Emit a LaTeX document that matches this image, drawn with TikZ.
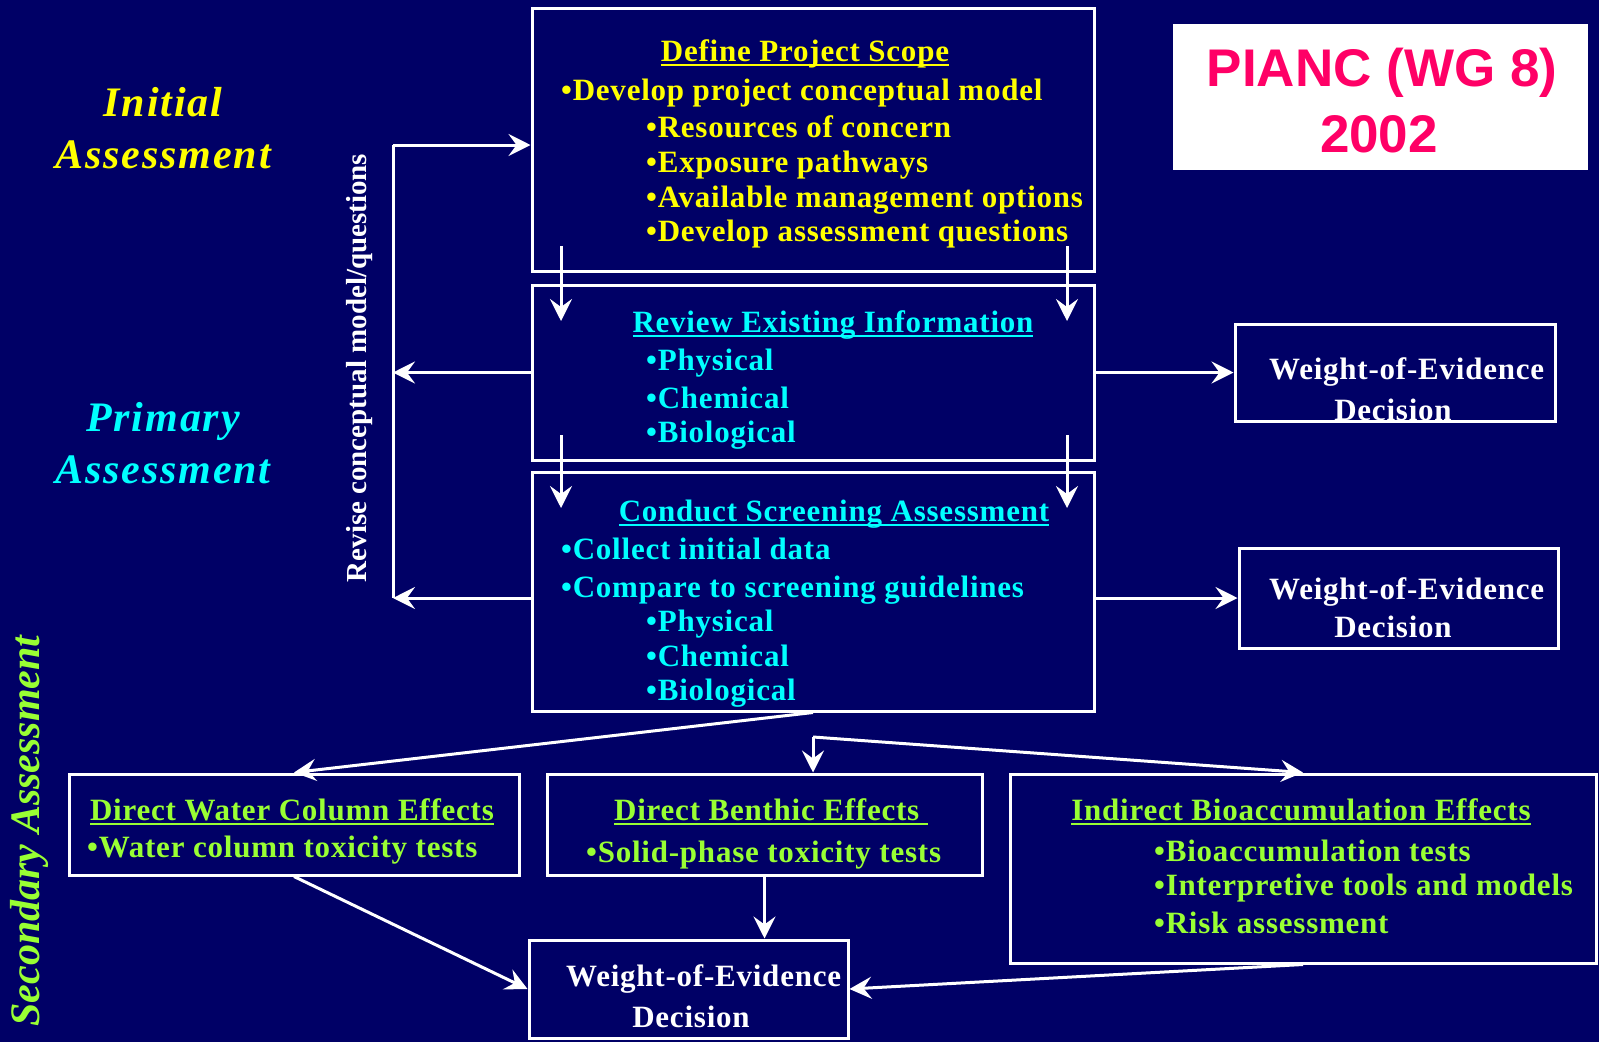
\documentclass[tikz,border=0pt]{standalone}
\usepackage{fontspec}
\setmainfont{Liberation Serif}
\newfontfamily\spfont[LetterSpace=2.5]{Liberation Serif}
\newfontfamily\labfont[LetterSpace=4.5]{Liberation Serif}
\newfontfamily\arialfont{Liberation Sans}
\usetikzlibrary{arrows.meta}
\definecolor{bg}{HTML}{000066}
\definecolor{yel}{HTML}{FFFF00}
\definecolor{cyn}{HTML}{00FFFF}
\definecolor{grn}{HTML}{99FF33}
\definecolor{pnk}{HTML}{FF0066}
\newcommand\undl[1]{\setbox0\hbox{#1}\rlap{\rule[-5pt]{\wd0}{2.5pt}}\box0}
\tikzset{
  box/.style={draw=white, line width=3pt, inner sep=0pt},
  ln/.style={draw=white, line width=3pt},
  arr/.style={draw=white, line width=3pt, -{Stealth[length=22pt,width=22pt,inset=8pt]}},
  tx/.style={inner sep=0pt, font=\spfont\fontsize{31}{36}\selectfont\bfseries},
  ty/.style={tx, text=yel},
  tc/.style={tx, text=cyn},
  tg/.style={tx, text=grn},
  tw/.style={tx, text=white},
  lab/.style={inner sep=0pt, align=center, font=\labfont\fontsize{42}{52}\selectfont\bfseries\itshape},
}
\begin{document}
\begin{tikzpicture}[x=1pt,y=-1pt]
\useasboundingbox (0,0) rectangle (1599,1042);
\fill[bg] (0,0) rectangle (1599,1042);

% boxes
\node[box, minimum width=562, minimum height=263] (b1) at (813,139.5) {};
\node[box, minimum width=562, minimum height=175] (b2) at (813,372.5) {};
\node[box, minimum width=562, minimum height=239] (b3) at (813,591.5) {};
\node[inner sep=0pt, fill=white, minimum width=415, minimum height=146] (pi) at (1380.5,97) {};
\node[box, minimum width=320, minimum height=97] (w1) at (1395,372.5) {};
\node[box, minimum width=319, minimum height=100] (w2) at (1398.5,598) {};
\node[box, minimum width=450, minimum height=101] (dw) at (294,824.5) {};
\node[box, minimum width=435, minimum height=101] (db) at (764.5,824.5) {};
\node[box, minimum width=586, minimum height=189] (ib) at (1303,868.5) {};
\node[box, minimum width=319, minimum height=98] (wb) at (688.5,989) {};

% side labels
\node[lab, text=yel] (ia) at (163,128) {Initial\\Assessment};
\node[lab, text=cyn] (pa) at (163,443) {Primary\\Assessment};
\node[inner sep=0pt, font=\fontsize{42}{52}\selectfont\bfseries\itshape, text=grn, rotate=90] (sa) at (29,831) {Secondary Assessment};
\node[inner sep=0pt, text=white, rotate=90, font=\fontsize{29}{34}\selectfont\bfseries] (rv) at (360,368) {Revise conceptual model/questions};

% PIANC
\node[inner sep=0pt, anchor=base, text=pnk, font=\arialfont\bfseries\fontsize{53}{60}\selectfont] (pt1) at (1382,86) {PIANC (WG 8)};
\node[inner sep=0pt, anchor=base, text=pnk, font=\arialfont\bfseries\fontsize{53}{60}\selectfont] (pt2) at (1379,152) {2002};

% box 1
\node[ty, anchor=mid] (t1h) at (805,59) {\undl{Define Project Scope}};
\node[ty, anchor=mid west] (t1a) at (561,98) {•Develop project conceptual model};
\node[ty, anchor=mid west] (t1b) at (646,135.5) {•Resources of concern};
\node[ty, anchor=mid west] (t1c) at (646,170) {•Exposure pathways};
\node[ty, anchor=mid west] (t1d) at (646,205) {•Available management options};
\node[ty, anchor=mid west] (t1e) at (646,239.5) {•Develop assessment questions};

% box 2
\node[tc, anchor=mid] (t2h) at (833,330) {\undl{Review Existing Information}};
\node[tc, anchor=mid west] (t2a) at (646,368) {•Physical};
\node[tc, anchor=mid west] (t2b) at (646,406) {•Chemical};
\node[tc, anchor=mid west] (t2c) at (646,440) {•Biological};

% box 3
\node[tc, anchor=mid] (t3h) at (834,519) {\undl{Conduct Screening Assessment}};
\node[tc, anchor=mid west] (t3a) at (561,557) {•Collect initial data};
\node[tc, anchor=mid west] (t3b) at (561,595) {•Compare to screening guidelines};
\node[tc, anchor=mid west] (t3c) at (646,629) {•Physical};
\node[tc, anchor=mid west] (t3d) at (646,664) {•Chemical};
\node[tc, anchor=mid west] (t3e) at (646,698) {•Biological};

% WoE boxes
\node[tw, anchor=mid west] (w1a) at (1269,377) {Weight-of-Evidence};
\node[tw, anchor=mid] (w1b) at (1393,418) {Decision};
\node[tw, anchor=mid west] (w2a) at (1269,597) {Weight-of-Evidence};
\node[tw, anchor=mid] (w2b) at (1393,635) {Decision};
\node[tw, anchor=mid west] (wba) at (566,984) {Weight-of-Evidence};
\node[tw, anchor=mid] (wbb) at (691,1025) {Decision};

% secondary boxes
\node[tg, anchor=mid] (dwh) at (292,818) {\undl{Direct Water Column Effects}};
\node[tg, anchor=mid west] (dwa) at (87,855) {•Water column toxicity tests};
\node[tg, anchor=mid] (dbh) at (771,818) {\undl{Direct Benthic Effects\ }};
\node[tg, anchor=mid west] (dba) at (586,860) {•Solid-phase toxicity tests};
\node[tg, anchor=mid] (ibh) at (1301,818) {\undl{Indirect Bioaccumulation Effects}};
\node[tg, anchor=mid west] (iba) at (1154,859) {•Bioaccumulation tests};
\node[tg, anchor=mid west] (ibb) at (1154,893) {•Interpretive tools and models};
\node[tg, anchor=mid west] (ibc) at (1154,931) {•Risk assessment};

% feedback loop
\coordinate (fbt) at (393,145);
\coordinate (fbb) at (393,598);
\draw[ln] (fbt) -- (fbb);
\draw[arr] (fbt) -- (b1.west |- fbt);
\draw[arr] (b2.west) -- (fbt |- b2.west);
\draw[arr] (b3.west |- fbb) -- (fbb);

% internal down arrows
\coordinate (d1s) at (561,246); \coordinate (d1e) at (561,321);
\coordinate (d2s) at (1067,246); \coordinate (d2e) at (1067,321);
\coordinate (d3s) at (561,435); \coordinate (d3e) at (561,508);
\coordinate (d4s) at (1067,435); \coordinate (d4e) at (1067,508);
\draw[arr] (d1s) -- (d1e);
\draw[arr] (d2s) -- (d2e);
\draw[arr] (d3s) -- (d3e);
\draw[arr] (d4s) -- (d4e);

% right arrows
\draw[arr] (b2.east) -- (w1.west);
\draw[arr] (b3.east |- w2.west) -- (w2.west);

% secondary connectors
\coordinate (jn) at (813,737);
\draw[arr] (b3.south) -- (dw.north);
\draw[arr] (jn) -- (jn |- db.north);
\draw[arr] (jn) -- (ib.north);
\draw[arr] (dw.south) -- (wb.west);
\draw[arr] (db.south) -- (db.south |- wb.north);
\draw[arr] (ib.south) -- (wb.east);
\end{tikzpicture}
\end{document}
